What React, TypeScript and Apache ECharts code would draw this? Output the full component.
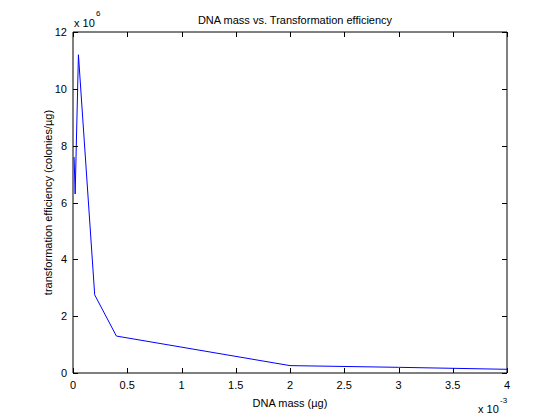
import React, { useEffect, useRef } from "react";
import * as echarts from "echarts";

// DNA mass in µg, transformation efficiency in colonies/µg
const dnaMass: number[] = [0.00001, 0.00002, 0.00005, 0.0002, 0.0004, 0.002, 0.003, 0.004];
const efficiency: number[] = [7.6e6, 6.3e6, 11.2e6, 2.75e6, 1.3e6, 0.26e6, 0.2e6, 0.13e6];
const xTicks: string[] = ["0", "0.5", "1", "1.5", "2", "2.5", "3", "3.5", "4"];
const yTicks: string[] = ["0", "2", "4", "6", "8", "10", "12"];

const FONT = "Liberation Sans, Arial, sans-serif";
const X_MAX = 0.004;
const Y_MAX = 12e6;

export default function App() {
  const ref = useRef<HTMLDivElement>(null);
  useEffect(() => {
    if (!ref.current) return;
    const chart = echarts.init(ref.current, null, { renderer: "svg" });
    const xFmt = (v: number) => xTicks[Math.round(v / 0.0005)] ?? "";
    const yFmt = (v: number) => yTicks[Math.round(v / 2e6)] ?? "";

    // tick marks (inside, on all four sides) at the tick values, placed via the axes' scales
    const tickData: number[][] = [
      ...xTicks.map((t) => [parseFloat(t) * 1e-3, 0, 0]),
      ...yTicks.map((t) => [0, parseFloat(t) * 1e6, 1]),
    ];
    const TL = 5;
    const renderTick = (_params: any, api: any) => {
      const kind = api.value(2);
      const s = { stroke: "#000", lineWidth: 1 };
      if (kind === 0) {
        const v = api.value(0);
        const b = api.coord([v, 0]);
        const t = api.coord([v, Y_MAX]);
        const x = Math.round(b[0]) + 0.5;
        const yb = Math.round(b[1]);
        const yt = Math.round(t[1]);
        return {
          type: "group",
          children: [
            { type: "line", shape: { x1: x, y1: yb, x2: x, y2: yb - TL }, style: s },
            { type: "line", shape: { x1: x, y1: yt, x2: x, y2: yt + TL }, style: s },
          ],
        };
      }
      const v = api.value(1);
      const l = api.coord([0, v]);
      const r = api.coord([X_MAX, v]);
      const y = Math.round(l[1]) + 0.5;
      const xl = Math.round(l[0]);
      const xr = Math.round(r[0]);
      return {
        type: "group",
        children: [
          { type: "line", shape: { x1: xl, y1: y, x2: xl + TL, y2: y }, style: s },
          { type: "line", shape: { x1: xr, y1: y, x2: xr - TL, y2: y }, style: s },
        ],
      };
    };

    chart.setOption({
      animation: false,
      backgroundColor: "#fff",
      textStyle: { fontFamily: FONT },
      title: {
        text: "DNA mass vs. Transformation efficiency",
        left: 290,
        textAlign: "center",
        top: 9,
        textStyle: { fontSize: 11, fontWeight: "normal", color: "#000", fontFamily: FONT },
      },
      grid: { left: 73, right: 53, top: 32, bottom: 47, show: true, borderColor: "#000", borderWidth: 1 },
      xAxis: {
        type: "value", min: 0, max: X_MAX, interval: 0.0005,
        axisLine: { show: false }, axisTick: { show: false }, splitLine: { show: false },
        axisLabel: { formatter: xFmt, color: "#000", fontSize: 11, margin: 6, fontFamily: FONT },
        name: "DNA mass (µg)", nameLocation: "middle", nameGap: 24, nameMoveOverlap: false,
        nameTextStyle: { color: "#000", fontSize: 11, fontFamily: FONT },
      },
      yAxis: {
        type: "value", min: 0, max: Y_MAX, interval: 2e6,
        axisLine: { show: false }, axisTick: { show: false }, splitLine: { show: false },
        axisLabel: { formatter: yFmt, color: "#000", fontSize: 11, margin: 6, fontFamily: FONT },
        name: "transformation efficiency (colonies/µg)", nameLocation: "middle", nameGap: 20, nameRotate: 90,
        nameMoveOverlap: false,
        nameTextStyle: { color: "#000", fontSize: 11, fontFamily: FONT },
      },
      graphic: [
        { type: "text", left: 74, top: 17, style: { text: "x 10", fontSize: 11, fill: "#000", fontFamily: FONT } },
        { type: "text", left: 96, top: 9, style: { text: "6", fontSize: 8, fill: "#000", fontFamily: FONT } },
        { type: "text", left: 478, top: 403, style: { text: "x 10", fontSize: 11, fill: "#000", fontFamily: FONT } },
        { type: "text", left: 500, top: 396, style: { text: "-3", fontSize: 8, fill: "#000", fontFamily: FONT } },
      ],
      series: [
        {
          type: "line",
          data: dnaMass.map((x, i) => [x, efficiency[i]]),
          showSymbol: false, symbol: "none",
          lineStyle: { color: "#0000ff", width: 1 },
          itemStyle: { color: "#0000ff" },
          z: 3,
        },
        {
          type: "custom",
          renderItem: renderTick,
          data: tickData,
          encode: { x: 0, y: 1 },
          silent: true,
          clip: false,
          z: 4,
        },
      ],
    });
    return () => chart.dispose();
  }, []);
  return (
    <div ref={ref} style={{ position: "fixed", left: 0, top: 0, width: 560, height: 420, background: "#fff" }} />
  );
}
